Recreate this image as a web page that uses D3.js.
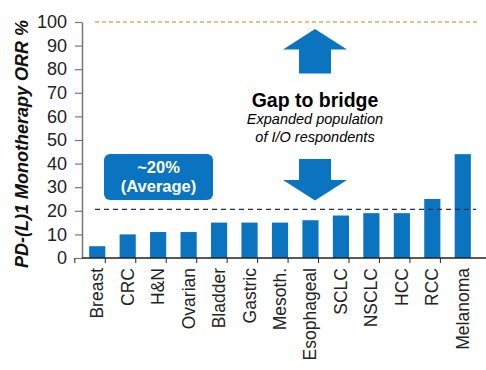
<!DOCTYPE html>
<html lang="en">
<head>
<meta charset="utf-8">
<title>PD-(L)1 ORR</title>
<script src="https://d3js.org/d3.v7.min.js"></script>
<style>
  body { margin: 0; background: #fff; }
  svg { display: block; font-family: "Liberation Sans", Arial, sans-serif; }
</style>
</head>
<body>
<div id="chart"></div>
<script>
// data
const tumours = ["Breast", "CRC", "H&N", "Ovarian", "Bladder", "Gastric", "Mesoth.", "Esophageal", "SCLC", "NSCLC", "HCC", "RCC", "Melanoma"];
const orr = [5, 10, 11, 11, 15, 15, 15, 16, 18, 19, 19, 25, 44];
const yTicks = [0, 10, 20, 30, 40, 50, 60, 70, 80, 90, 100];
const averageOrr = 20.6;
const targetOrr = 100;
const averageLabel = ["~20%", "(Average)"];
const gapLabel = ["Gap to bridge", "Expanded population", "of I/O respondents"];

const width = 486, height = 370;
const margin = {top: 22, right: 8, bottom: 112, left: 82};

const svg = d3.select("#chart").append("svg")
  .attr("width", width)
  .attr("height", height);

const x = d3.scaleBand()
  .domain(tumours)
  .range([margin.left, 478])
  .paddingInner(0.47)
  .paddingOuter(0.235);

const y = d3.scaleLinear()
  .domain([0, 100])
  .range([height - margin.bottom, margin.top]);

const blue = "#0a74c0";

// y axis
const yAxis = svg.append("g")
  .attr("transform", `translate(${margin.left},0)`)
  .call(d3.axisLeft(y).tickValues(yTicks).tickSize(7).tickPadding(8).tickSizeOuter(0));
yAxis.select(".domain").attr("stroke", "#777").attr("stroke-width", 1.5);
yAxis.selectAll(".tick line").attr("stroke", "#777").attr("stroke-width", 1.2);
yAxis.selectAll(".tick text")
  .attr("font-size", 18)
  .attr("font-family", "Liberation Sans, Arial, sans-serif")
  .attr("fill", "#222");

// bars
svg.append("g")
  .selectAll("rect")
  .data(orr)
  .join("rect")
  .attr("x", (d, i) => x(tumours[i]))
  .attr("y", d => y(d))
  .attr("width", x.bandwidth())
  .attr("height", d => y(0) - y(d))
  .attr("fill", blue);

// x axis (ticks between categories)
const step = x.step();
svg.append("line")
  .attr("x1", margin.left).attr("x2", width)
  .attr("y1", y(0)).attr("y2", y(0))
  .attr("stroke", "#222").attr("stroke-width", 1.5);
svg.append("g")
  .selectAll("line")
  .data(tumours)
  .join("line")
  .attr("x1", d => x(d) - step * 0.235 * 2)
  .attr("x2", d => x(d) - step * 0.235 * 2)
  .attr("y1", y(0)).attr("y2", y(0) + 5)
  .attr("stroke", "#222");

svg.append("g")
  .selectAll("text")
  .data(tumours)
  .join("text")
  .attr("transform", d => `translate(${x(d) + x.bandwidth() / 2 + 6},${y(0) + 10}) rotate(-90)`)
  .attr("text-anchor", "end")
  .attr("font-size", 17.5)
  .attr("fill", "#222")
  .text(d => d);

// y axis title
svg.append("text")
  .attr("transform", `translate(28,${(y(0) + y(100)) / 2 + 4}) rotate(-90)`)
  .attr("text-anchor", "middle")
  .attr("font-size", 18)
  .attr("font-weight", "bold")
  .attr("font-style", "italic")
  .attr("fill", "#111")
  .text("PD-(L)1 Monotherapy ORR %");

// reference lines
svg.append("line")
  .attr("x1", 95).attr("x2", 477)
  .attr("y1", y(targetOrr)).attr("y2", y(targetOrr))
  .attr("stroke", "#f0a860").attr("stroke-width", 1.3)
  .attr("stroke-dasharray", "4,3");
svg.append("line")
  .attr("x1", 95).attr("x2", 476)
  .attr("y1", y(averageOrr)).attr("y2", y(averageOrr))
  .attr("stroke", "#1f3050").attr("stroke-width", 1.3)
  .attr("stroke-dasharray", "5,4");

// average box
svg.append("rect")
  .attr("x", 104).attr("y", 154)
  .attr("width", 109).attr("height", 46)
  .attr("rx", 6)
  .attr("fill", blue);
svg.append("g")
  .selectAll("text")
  .data(averageLabel)
  .join("text")
  .attr("x", 158.5).attr("y", (d, i) => 173 + i * 19)
  .attr("text-anchor", "middle")
  .attr("font-size", 16.5).attr("font-weight", "bold")
  .attr("fill", "#fff")
  .text(d => d);

// arrows
const cx = 315;
svg.append("path")
  .attr("d", `M${cx},29 L${cx + 32},49.5 L${cx + 16},49.5 L${cx + 16},73.5 L${cx - 16},73.5 L${cx - 16},49.5 L${cx - 32},49.5 Z`)
  .attr("fill", blue);
svg.append("path")
  .attr("d", `M${cx},200.5 L${cx + 32},180 L${cx + 16},180 L${cx + 16},159 L${cx - 16},159 L${cx - 16},180 L${cx - 32},180 Z`)
  .attr("fill", blue);

svg.append("text")
  .attr("x", cx).attr("y", 107)
  .attr("text-anchor", "middle")
  .attr("font-size", 19.5).attr("font-weight", "bold")
  .attr("fill", "#000")
  .text(gapLabel[0]);
svg.append("g")
  .selectAll("text")
  .data(gapLabel.slice(1))
  .join("text")
  .attr("x", cx).attr("y", (d, i) => 124 + i * 18)
  .attr("text-anchor", "middle")
  .attr("font-size", 14.5).attr("font-style", "italic")
  .attr("fill", "#000")
  .text(d => d);
</script>
</body>
</html>
